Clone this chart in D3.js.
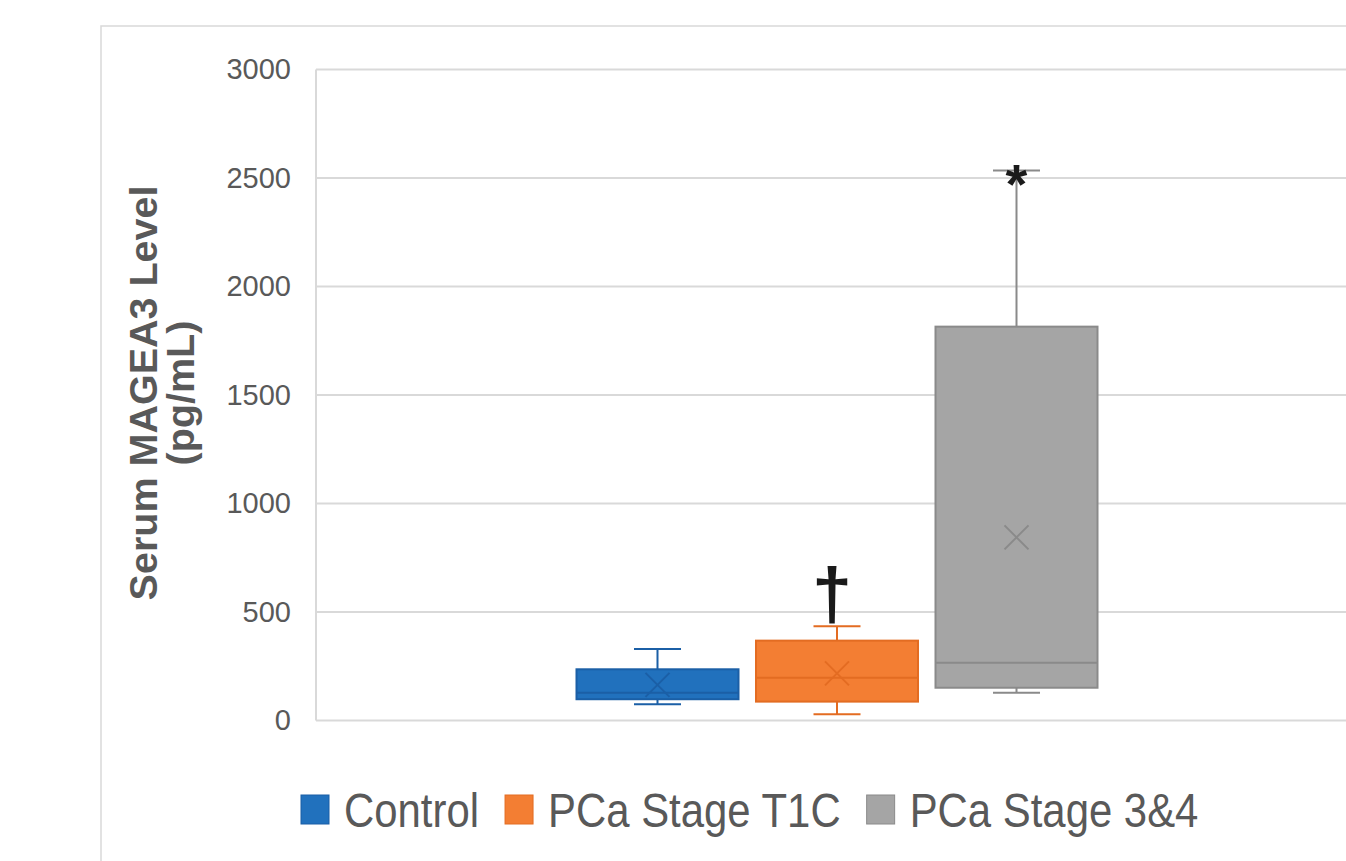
<!DOCTYPE html>
<html>
<head>
<meta charset="utf-8">
<script src="https://cdn.jsdelivr.net/npm/d3@7"></script>
<style>
  html, body { margin: 0; padding: 0; background: #fff; }
  svg { display: block; }
</style>
</head>
<body>
<svg width="1346" height="861"></svg>
<script>
// box-plot summary per group (pg/mL)
var groups = ['Control', 'PCa Stage T1C', 'PCa Stage 3&4'];
var minVals = [75, 29, 128];
var q1Vals = [98, 87, 151];
var medianVals = [128, 197, 266];
var q3Vals = [236, 368, 1815];
var maxVals = [330, 434, 2535];
var meanVals = [164, 217, 844];
var sigMarks = ['', '\u2020', '*'];
var yTicks = [0, 500, 1000, 1500, 2000, 2500, 3000];

var fills = ['#2171bd', '#f37e33', '#a5a5a5'];
var strokes = ['#1b5fa6', '#e36c22', '#8a8a8a'];

var svg = d3.select('svg'),
    width = 1346,
    height = 861;

var plot = {left: 316, right: 1358, top: 69.5, bottom: 720.5};

var y = d3.scaleLinear().domain([0, 3000]).range([plot.bottom, plot.top]);

var x0 = d3.scaleBand().domain(['all']).range([plot.left, plot.right]).padding(1 / 3);
var x1 = d3.scaleBand().domain(groups).range([0, x0.bandwidth()]).paddingInner(0.0975).paddingOuter(0);

var boxes = groups.map(function (g, i) {
    return {
        name: g, min: minVals[i], q1: q1Vals[i], median: medianVals[i],
        q3: q3Vals[i], max: maxVals[i], mean: meanVals[i], mark: sigMarks[i],
        fill: fills[i], stroke: strokes[i]
    };
});

// outer chart frame (cropped on right / bottom)
svg.append('path')
    .attr('d', 'M101,' + height + 'V26H' + width)
    .attr('fill', 'none')
    .attr('stroke', '#d9d9d9')
    .attr('stroke-width', 1.5);

// gridlines
svg.append('g').selectAll('line')
    .data(yTicks)
    .join('line')
    .attr('x1', plot.left)
    .attr('x2', width)
    .attr('y1', function (d) { return y(d); })
    .attr('y2', function (d) { return y(d); })
    .attr('stroke', '#d9d9d9')
    .attr('stroke-width', 2);

// vertical axis line
svg.append('line')
    .attr('x1', plot.left).attr('x2', plot.left)
    .attr('y1', y(3000)).attr('y2', y(0))
    .attr('stroke', '#d9d9d9')
    .attr('stroke-width', 2);

// y axis labels
var yAxis = svg.append('g')
    .attr('transform', 'translate(' + plot.left + ',0)')
    .call(d3.axisLeft(y).tickValues(yTicks).tickFormat(d3.format('d')).tickSize(0).tickPadding(25));
yAxis.select('.domain').remove();
yAxis.selectAll('text')
    .attr('fill', '#595959')
    .attr('font-family', '"Liberation Sans", Arial, sans-serif')
    .attr('font-size', 29);

// y axis title
var title = svg.append('text')
    .attr('transform', 'translate(0,393) rotate(-90)')
    .attr('text-anchor', 'middle')
    .attr('fill', '#595959')
    .attr('font-family', '"Liberation Sans", Arial, sans-serif')
    .attr('font-weight', 'bold')
    .attr('font-size', 39.5);
title.append('tspan').attr('x', 0).attr('y', 157).text('Serum MAGEA3 Level');
title.append('tspan').attr('x', 0).attr('y', 194).text('(pg/mL)');

// boxes
var bw = x1.bandwidth(),
    capW = 47;

var g = svg.append('g').selectAll('g')
    .data(boxes)
    .join('g')
    .attr('transform', function (d) { return 'translate(' + (x0('all') + x1(d.name)) + ',0)'; });

// whiskers
g.append('path')
    .attr('d', function (d) {
        var cx = bw / 2;
        return 'M' + cx + ',' + y(d.q3) + 'V' + y(d.max) +
               'M' + (cx - capW / 2) + ',' + y(d.max) + 'H' + (cx + capW / 2) +
               'M' + cx + ',' + y(d.q1) + 'V' + y(d.min) +
               'M' + (cx - capW / 2) + ',' + y(d.min) + 'H' + (cx + capW / 2);
    })
    .attr('fill', 'none')
    .attr('stroke', function (d) { return d.stroke; })
    .attr('stroke-width', 2);

g.append('rect')
    .attr('x', 0)
    .attr('width', bw)
    .attr('y', function (d) { return y(d.q3); })
    .attr('height', function (d) { return y(d.q1) - y(d.q3); })
    .attr('fill', function (d) { return d.fill; })
    .attr('stroke', function (d) { return d.stroke; })
    .attr('stroke-width', 2);

// median
g.append('line')
    .attr('x1', 0).attr('x2', bw)
    .attr('y1', function (d) { return y(d.median); })
    .attr('y2', function (d) { return y(d.median); })
    .attr('stroke', function (d) { return d.stroke; })
    .attr('stroke-width', 2);

// mean marker (x)
var ms = 12;
g.append('path')
    .attr('d', function (d) {
        var cx = bw / 2, cy = y(d.mean);
        return 'M' + (cx - ms) + ',' + (cy - ms) + 'L' + (cx + ms) + ',' + (cy + ms) +
               'M' + (cx - ms) + ',' + (cy + ms) + 'L' + (cx + ms) + ',' + (cy - ms);
    })
    .attr('fill', 'none')
    .attr('stroke', function (d) { return d.stroke; })
    .attr('stroke-width', 2);

// significance marks
g.append('text')
    .attr('x', function (d) { return d.mark === '*' ? bw / 2 : bw / 2 - 5; })
    .attr('y', function (d) { return d.mark === '*' ? y(d.max) + 33 : y(d.max) - 7; })
    .attr('text-anchor', 'middle')
    .attr('fill', '#1a1a1a')
    .attr('font-family', '"Liberation Sans", Arial, sans-serif')
    .attr('font-weight', 'bold')
    .attr('font-size', function (d) { return d.mark === '*' ? 56 : 72; })
    .text(function (d) { return d.mark; });

// legend (condensed text like the original narrow font)
var squeeze = 0.855;
var legend = svg.append('g').attr('transform', 'translate(301,0)');
var lx = 0;
boxes.forEach(function (d) {
    legend.append('rect')
        .attr('x', lx).attr('y', 795)
        .attr('width', 28).attr('height', 29)
        .attr('fill', d.fill)
        .attr('stroke', d.stroke)
        .attr('stroke-width', 1);
    var t = legend.append('text')
        .attr('transform', 'translate(' + (lx + 43) + ',826.5) scale(' + squeeze + ',1)')
        .attr('fill', '#595959')
        .attr('font-family', '"Liberation Sans", Arial, sans-serif')
        .attr('font-size', 49)
        .text(d.name);
    lx += 43 + t.node().getComputedTextLength() * squeeze + 26;
});
</script>
</body>
</html>
